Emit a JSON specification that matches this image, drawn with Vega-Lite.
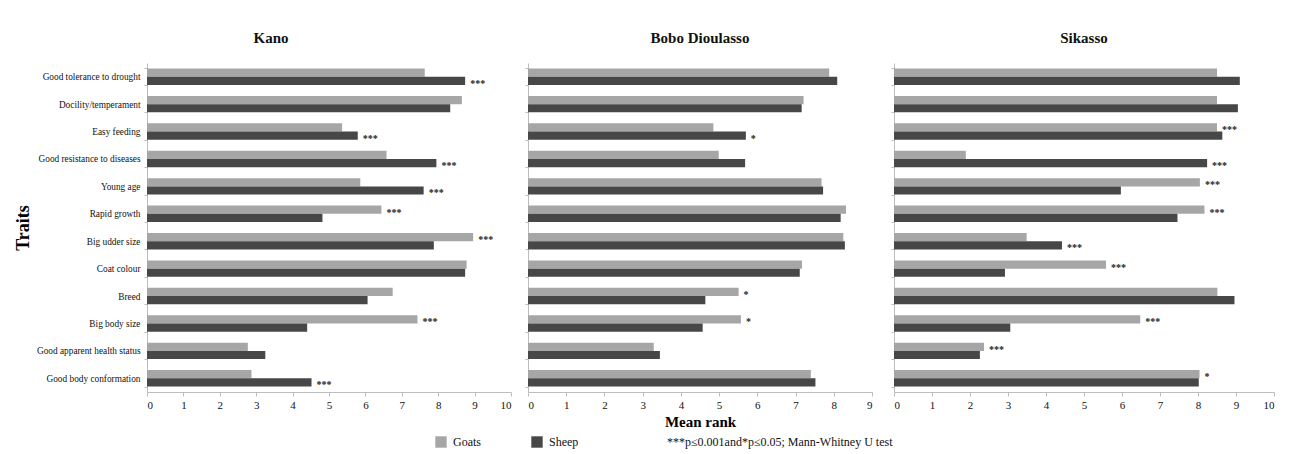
{
  "$schema": "https://vega.github.io/schema/vega-lite/v6.json",
  "padding": {"left": 14, "top": 31, "right": 5, "bottom": 5},
  "background": "white",
  "config": {
    "font": "Liberation Serif, Times New Roman, serif",
    "concat": {"spacing": 12},
    "view": {"stroke": null},
    "axis": {"labelFont": "Liberation Serif, Times New Roman, serif", "titleFont": "Liberation Serif, Times New Roman, serif", "labelColor": "#111", "domainColor": "#bdbdbd", "tickColor": "#bdbdbd", "grid": false},
    "legend": {"labelFont": "Liberation Serif, Times New Roman, serif", "titleFont": "Liberation Serif, Times New Roman, serif"},
    "text": {"font": "Liberation Serif, Times New Roman, serif"},
    "title": {"font": "Liberation Serif, Times New Roman, serif", "fontSize": 15, "fontWeight": "bold", "color": "#111", "offset": 17}
  },
  "datasets": {
    "d": [
      {"site": "Kano", "trait": "Good tolerance to drought", "species": "Goats", "value": 7.63, "sig": ""},
      {"site": "Kano", "trait": "Good tolerance to drought", "species": "Sheep", "value": 8.74, "sig": "***"},
      {"site": "Kano", "trait": "Docility/temperament", "species": "Goats", "value": 8.65, "sig": ""},
      {"site": "Kano", "trait": "Docility/temperament", "species": "Sheep", "value": 8.33, "sig": ""},
      {"site": "Kano", "trait": "Easy feeding", "species": "Goats", "value": 5.36, "sig": ""},
      {"site": "Kano", "trait": "Easy feeding", "species": "Sheep", "value": 5.79, "sig": "***"},
      {"site": "Kano", "trait": "Good resistance to diseases", "species": "Goats", "value": 6.58, "sig": ""},
      {"site": "Kano", "trait": "Good resistance to diseases", "species": "Sheep", "value": 7.95, "sig": "***"},
      {"site": "Kano", "trait": "Young age", "species": "Goats", "value": 5.86, "sig": ""},
      {"site": "Kano", "trait": "Young age", "species": "Sheep", "value": 7.60, "sig": "***"},
      {"site": "Kano", "trait": "Rapid growth", "species": "Goats", "value": 6.44, "sig": "***"},
      {"site": "Kano", "trait": "Rapid growth", "species": "Sheep", "value": 4.82, "sig": ""},
      {"site": "Kano", "trait": "Big udder size", "species": "Goats", "value": 8.96, "sig": "***"},
      {"site": "Kano", "trait": "Big udder size", "species": "Sheep", "value": 7.88, "sig": ""},
      {"site": "Kano", "trait": "Coat colour", "species": "Goats", "value": 8.78, "sig": ""},
      {"site": "Kano", "trait": "Coat colour", "species": "Sheep", "value": 8.74, "sig": ""},
      {"site": "Kano", "trait": "Breed", "species": "Goats", "value": 6.75, "sig": ""},
      {"site": "Kano", "trait": "Breed", "species": "Sheep", "value": 6.06, "sig": ""},
      {"site": "Kano", "trait": "Big body size", "species": "Goats", "value": 7.43, "sig": "***"},
      {"site": "Kano", "trait": "Big body size", "species": "Sheep", "value": 4.40, "sig": ""},
      {"site": "Kano", "trait": "Good apparent health status", "species": "Goats", "value": 2.77, "sig": ""},
      {"site": "Kano", "trait": "Good apparent health status", "species": "Sheep", "value": 3.25, "sig": ""},
      {"site": "Kano", "trait": "Good body conformation", "species": "Goats", "value": 2.87, "sig": ""},
      {"site": "Kano", "trait": "Good body conformation", "species": "Sheep", "value": 4.52, "sig": "***"},

      {"site": "Bobo", "trait": "Good tolerance to drought", "species": "Goats", "value": 7.88, "sig": ""},
      {"site": "Bobo", "trait": "Good tolerance to drought", "species": "Sheep", "value": 8.09, "sig": ""},
      {"site": "Bobo", "trait": "Docility/temperament", "species": "Goats", "value": 7.21, "sig": ""},
      {"site": "Bobo", "trait": "Docility/temperament", "species": "Sheep", "value": 7.16, "sig": ""},
      {"site": "Bobo", "trait": "Easy feeding", "species": "Goats", "value": 4.85, "sig": ""},
      {"site": "Bobo", "trait": "Easy feeding", "species": "Sheep", "value": 5.70, "sig": "*"},
      {"site": "Bobo", "trait": "Good resistance to diseases", "species": "Goats", "value": 4.99, "sig": ""},
      {"site": "Bobo", "trait": "Good resistance to diseases", "species": "Sheep", "value": 5.68, "sig": ""},
      {"site": "Bobo", "trait": "Young age", "species": "Goats", "value": 7.68, "sig": ""},
      {"site": "Bobo", "trait": "Young age", "species": "Sheep", "value": 7.72, "sig": ""},
      {"site": "Bobo", "trait": "Rapid growth", "species": "Goats", "value": 8.32, "sig": ""},
      {"site": "Bobo", "trait": "Rapid growth", "species": "Sheep", "value": 8.18, "sig": ""},
      {"site": "Bobo", "trait": "Big udder size", "species": "Goats", "value": 8.25, "sig": ""},
      {"site": "Bobo", "trait": "Big udder size", "species": "Sheep", "value": 8.29, "sig": ""},
      {"site": "Bobo", "trait": "Coat colour", "species": "Goats", "value": 7.17, "sig": ""},
      {"site": "Bobo", "trait": "Coat colour", "species": "Sheep", "value": 7.11, "sig": ""},
      {"site": "Bobo", "trait": "Breed", "species": "Goats", "value": 5.51, "sig": "*"},
      {"site": "Bobo", "trait": "Breed", "species": "Sheep", "value": 4.64, "sig": ""},
      {"site": "Bobo", "trait": "Big body size", "species": "Goats", "value": 5.57, "sig": "*"},
      {"site": "Bobo", "trait": "Big body size", "species": "Sheep", "value": 4.57, "sig": ""},
      {"site": "Bobo", "trait": "Good apparent health status", "species": "Goats", "value": 3.29, "sig": ""},
      {"site": "Bobo", "trait": "Good apparent health status", "species": "Sheep", "value": 3.45, "sig": ""},
      {"site": "Bobo", "trait": "Good body conformation", "species": "Goats", "value": 7.40, "sig": ""},
      {"site": "Bobo", "trait": "Good body conformation", "species": "Sheep", "value": 7.52, "sig": ""},

      {"site": "Sikasso", "trait": "Good tolerance to drought", "species": "Goats", "value": 8.50, "sig": ""},
      {"site": "Sikasso", "trait": "Good tolerance to drought", "species": "Sheep", "value": 9.10, "sig": ""},
      {"site": "Sikasso", "trait": "Docility/temperament", "species": "Goats", "value": 8.50, "sig": ""},
      {"site": "Sikasso", "trait": "Docility/temperament", "species": "Sheep", "value": 9.05, "sig": ""},
      {"site": "Sikasso", "trait": "Easy feeding", "species": "Goats", "value": 8.50, "sig": "***"},
      {"site": "Sikasso", "trait": "Easy feeding", "species": "Sheep", "value": 8.64, "sig": ""},
      {"site": "Sikasso", "trait": "Good resistance to diseases", "species": "Goats", "value": 1.89, "sig": ""},
      {"site": "Sikasso", "trait": "Good resistance to diseases", "species": "Sheep", "value": 8.24, "sig": "***"},
      {"site": "Sikasso", "trait": "Young age", "species": "Goats", "value": 8.05, "sig": "***"},
      {"site": "Sikasso", "trait": "Young age", "species": "Sheep", "value": 5.97, "sig": ""},
      {"site": "Sikasso", "trait": "Rapid growth", "species": "Goats", "value": 8.17, "sig": "***"},
      {"site": "Sikasso", "trait": "Rapid growth", "species": "Sheep", "value": 7.46, "sig": ""},
      {"site": "Sikasso", "trait": "Big udder size", "species": "Goats", "value": 3.49, "sig": ""},
      {"site": "Sikasso", "trait": "Big udder size", "species": "Sheep", "value": 4.42, "sig": "***"},
      {"site": "Sikasso", "trait": "Coat colour", "species": "Goats", "value": 5.58, "sig": "***"},
      {"site": "Sikasso", "trait": "Coat colour", "species": "Sheep", "value": 2.92, "sig": ""},
      {"site": "Sikasso", "trait": "Breed", "species": "Goats", "value": 8.51, "sig": ""},
      {"site": "Sikasso", "trait": "Breed", "species": "Sheep", "value": 8.96, "sig": ""},
      {"site": "Sikasso", "trait": "Big body size", "species": "Goats", "value": 6.48, "sig": "***"},
      {"site": "Sikasso", "trait": "Big body size", "species": "Sheep", "value": 3.06, "sig": ""},
      {"site": "Sikasso", "trait": "Good apparent health status", "species": "Goats", "value": 2.37, "sig": "***"},
      {"site": "Sikasso", "trait": "Good apparent health status", "species": "Sheep", "value": 2.26, "sig": ""},
      {"site": "Sikasso", "trait": "Good body conformation", "species": "Goats", "value": 8.04, "sig": "*"},
      {"site": "Sikasso", "trait": "Good body conformation", "species": "Sheep", "value": 8.02, "sig": ""}
    ]
  },
  "data": {"name": "d"},
  "resolve": {"scale": {"x": "independent", "y": "independent"}},
  "hconcat": [
    {
      "width": 364, "height": 329,
      "title": {"text": "Kano", "anchor": "middle", "frame": "bounds", "dx": 8, "dy": 4},
      "transform": [{"filter": "datum.site === 'Kano'"}],
      "encoding": {
        "y": {"field": "trait", "type": "nominal", "sort": ["Good tolerance to drought", "Docility/temperament", "Easy feeding", "Good resistance to diseases", "Young age", "Rapid growth", "Big udder size", "Coat colour", "Breed", "Big body size", "Good apparent health status", "Good body conformation"], "scale": {"paddingInner": 0.4, "paddingOuter": 0.2},
          "axis": {"title": "Traits", "titleFontSize": 18, "titleFontWeight": "bold", "titleColor": "#000", "titlePadding": 4, "labelFontSize": 9.3, "labelPadding": 4, "tickBand": "extent", "tickSize": 3, "labelLimit": 200}},
        "yOffset": {"field": "species", "type": "nominal", "sort": ["Goats", "Sheep"], "scale": {"paddingInner": 0}},
        "x": {"field": "value", "type": "quantitative", "scale": {"domain": [0, 10], "nice": false}, "axis": {"title": null, "values": [0,1,2,3,4,5,6,7,8,9,10], "labelFontSize": 11, "tickSize": 4, "labelPadding": 3}}
      },
      "layer": [
        {"mark": {"type": "bar"}, "encoding": {"color": {"field": "species", "type": "nominal", "scale": {"domain": ["Goats", "Sheep"], "range": ["#a6a6a6", "#474747"]}, "legend": {"orient": "none", "legendX": 288, "legendY": 373, "direction": "horizontal", "title": "***p≤0.001and*p≤0.05; Mann-Whitney U test", "titleOrient": "right", "titleLimit": 600, "titleFontWeight": "normal", "titleFontSize": 12, "titleColor": "#111", "titlePadding": 89, "labelFontSize": 12, "labelColor": "#111", "symbolType": "square", "symbolSize": 130, "symbolStrokeWidth": 0, "columnPadding": 50, "labelOffset": 6}}}},
        {"transform": [{"filter": "datum.sig !== ''"}], "mark": {"type": "text", "align": "left", "baseline": "middle", "dx": 5, "dy": 3, "fontSize": 10, "fontWeight": "bold", "color": "#222"}, "encoding": {"text": {"field": "sig"}}}
      ]
    },
    {
      "hconcat": [
        {
          "width": 344, "height": 329,
          "title": {"text": "Bobo Dioulasso", "anchor": "middle"},
          "transform": [{"filter": "datum.site === 'Bobo'"}],
          "encoding": {
            "y": {"field": "trait", "type": "nominal", "sort": ["Good tolerance to drought", "Docility/temperament", "Easy feeding", "Good resistance to diseases", "Young age", "Rapid growth", "Big udder size", "Coat colour", "Breed", "Big body size", "Good apparent health status", "Good body conformation"], "scale": {"paddingInner": 0.4, "paddingOuter": 0.2},
              "axis": {"title": null, "labels": false, "tickBand": "extent", "tickSize": 3}},
            "yOffset": {"field": "species", "type": "nominal", "sort": ["Goats", "Sheep"], "scale": {"paddingInner": 0}},
            "x": {"field": "value", "type": "quantitative", "scale": {"domain": [0, 9], "nice": false}, "axis": {"title": "Mean rank", "titleFontSize": 15, "titleFontWeight": "bold", "titleColor": "#000", "titlePadding": 4, "values": [0,1,2,3,4,5,6,7,8,9], "labelFontSize": 11, "tickSize": 4, "labelPadding": 3}}
          },
          "layer": [
            {"mark": {"type": "bar"}, "encoding": {"color": {"field": "species", "type": "nominal", "scale": {"domain": ["Goats", "Sheep"], "range": ["#a6a6a6", "#474747"]}, "legend": null}}},
            {"transform": [{"filter": "datum.sig !== ''"}], "mark": {"type": "text", "align": "left", "baseline": "middle", "dx": 5, "dy": 3, "fontSize": 10, "fontWeight": "bold", "color": "#222"}, "encoding": {"text": {"field": "sig"}}}
          ]
        },
        {
          "width": 380, "height": 329,
          "title": {"text": "Sikasso", "anchor": "middle"},
          "transform": [{"filter": "datum.site === 'Sikasso'"}],
          "encoding": {
            "y": {"field": "trait", "type": "nominal", "sort": ["Good tolerance to drought", "Docility/temperament", "Easy feeding", "Good resistance to diseases", "Young age", "Rapid growth", "Big udder size", "Coat colour", "Breed", "Big body size", "Good apparent health status", "Good body conformation"], "scale": {"paddingInner": 0.4, "paddingOuter": 0.2},
              "axis": {"title": null, "labels": false, "tickBand": "extent", "tickSize": 3}},
            "yOffset": {"field": "species", "type": "nominal", "sort": ["Goats", "Sheep"], "scale": {"paddingInner": 0}},
            "x": {"field": "value", "type": "quantitative", "scale": {"domain": [0, 10], "nice": false}, "axis": {"title": null, "values": [0,1,2,3,4,5,6,7,8,9,10], "labelFontSize": 11, "tickSize": 4, "labelPadding": 3}}
          },
          "layer": [
            {"mark": {"type": "bar"}, "encoding": {"color": {"field": "species", "type": "nominal", "scale": {"domain": ["Goats", "Sheep"], "range": ["#a6a6a6", "#474747"]}, "legend": null}}},
            {"transform": [{"filter": "datum.sig !== ''"}], "mark": {"type": "text", "align": "left", "baseline": "middle", "dx": 5, "dy": 3, "fontSize": 10, "fontWeight": "bold", "color": "#222"}, "encoding": {"text": {"field": "sig"}}}
          ]
        }
      ],
      "spacing": 17
    }
  ]
}
